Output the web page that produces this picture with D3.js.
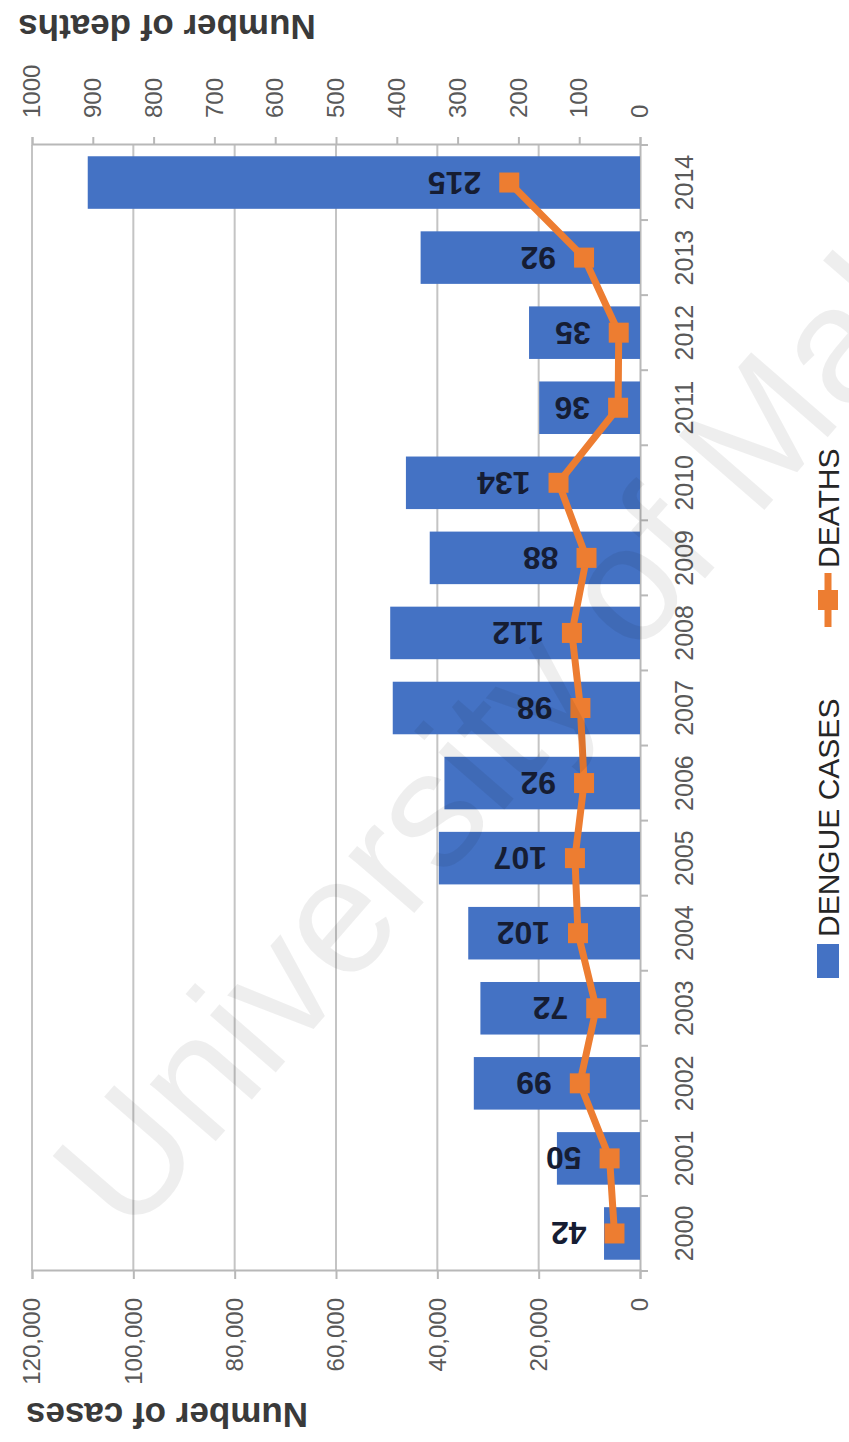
<!DOCTYPE html>
<html>
<head>
<meta charset="utf-8">
<script src="https://cdn.jsdelivr.net/npm/d3@7"></script>
<style>
  html, body { margin: 0; padding: 0; background: #ffffff; }
  svg { display: block; font-family: "Liberation Sans", Arial, sans-serif; }
</style>
</head>
<body>
<script>
// Dengue cases and deaths per year
const years = ["2000","2001","2002","2003","2004","2005","2006","2007","2008","2009","2010","2011","2012","2013","2014"];
const dengueCases = [7100, 16400, 32800, 31500, 33900, 39700, 38600, 48800, 49300, 41500, 46200, 19900, 21900, 43300, 109000];
const deaths = [42, 50, 99, 72, 102, 107, 92, 98, 112, 88, 134, 36, 35, 92, 215];
const caseTicks = [0, 20000, 40000, 60000, 80000, 100000, 120000];
const deathTicks = [0, 100, 200, 300, 400, 500, 600, 700, 800, 900, 1000];
const legendLabels = ["DENGUE CASES", "DEATHS"];
const axisTitles = { cases: "Number of cases", deaths: "Number of deaths" };

const W = 849, H = 1442;
const BLUE = "#4472c4", ORANGE = "#ed7d31";

const svg = d3.select("body").append("svg")
  .attr("width", W).attr("height", H)
  .attr("viewBox", `0 0 ${W} ${H}`);

svg.append("rect").attr("width", W).attr("height", H).attr("fill", "#ffffff");

// The column chart is laid out in its own frame (width H, height W)
// and turned a quarter turn counter-clockwise onto the page.
const g = svg.append("g").attr("transform", `translate(0,${H}) rotate(-90)`);

const plot = { left: 171, right: 1297, top: 32, bottom: 640 };

const x = d3.scaleBand().domain(years)
  .range([plot.left, plot.right])
  .paddingInner(0.3).paddingOuter(0.15);
const yCases = d3.scaleLinear().domain([0, 120000]).range([plot.bottom, plot.top]);
const yDeaths = d3.scaleLinear().domain([0, 1000]).range([plot.bottom, plot.top]);

// gridlines at the case ticks
g.append("g").selectAll("line")
  .data(caseTicks.filter(d => d > 0))
  .join("line")
  .attr("x1", plot.left).attr("x2", plot.right)
  .attr("y1", d => yCases(d)).attr("y2", d => yCases(d))
  .attr("stroke", "#c4c4c4").attr("stroke-width", 2);

// left axis: cases
const axCases = g.append("g")
  .attr("transform", `translate(${plot.left},0)`)
  .call(d3.axisLeft(yCases).tickValues(caseTicks).tickFormat(d3.format(",")).tickSize(8).tickPadding(19));

// right axis: deaths
const axDeaths = g.append("g")
  .attr("transform", `translate(${plot.right},0)`)
  .call(d3.axisRight(yDeaths).tickValues(deathTicks).tickFormat(d3.format("d")).tickSize(8).tickPadding(19));

// category axis
const axYears = g.append("g")
  .attr("transform", `translate(0,${plot.bottom})`)
  .call(d3.axisBottom(x).tickSize(0).tickPadding(35));

[axCases, axDeaths, axYears].forEach(ax => {
  ax.select(".domain").attr("stroke", "#b8b8b8").attr("stroke-width", 2);
  ax.selectAll(".tick line").attr("stroke", "#b8b8b8").attr("stroke-width", 2);
  ax.selectAll(".tick text").attr("fill", "#595959").attr("font-size", 24)
    .attr("font-family", "Liberation Sans, Arial, sans-serif");
});
axYears.selectAll(".tick text").attr("font-size", 25);

// tick marks between categories
g.append("g").selectAll("line")
  .data(d3.range(years.length + 1))
  .join("line")
  .attr("x1", i => plot.left + i * x.step()).attr("x2", i => plot.left + i * x.step())
  .attr("y1", plot.bottom).attr("y2", plot.bottom + 8)
  .attr("stroke", "#b8b8b8").attr("stroke-width", 2);

// bars: dengue cases
g.append("g").selectAll("rect")
  .data(years)
  .join("rect")
  .attr("x", d => x(d))
  .attr("width", x.bandwidth())
  .attr("y", (d, i) => yCases(dengueCases[i]))
  .attr("height", (d, i) => plot.bottom - yCases(dengueCases[i]))
  .attr("fill", BLUE);

// line: deaths
const cx = d => x(d) + x.bandwidth() / 2;
g.append("path")
  .datum(years)
  .attr("fill", "none")
  .attr("stroke", ORANGE)
  .attr("stroke-width", 7)
  .attr("stroke-linejoin", "round")
  .attr("d", d3.line().x(d => cx(d)).y((d, i) => yDeaths(deaths[i])));

const MK = 20;
g.append("g").selectAll("rect")
  .data(years)
  .join("rect")
  .attr("x", d => cx(d) - MK / 2)
  .attr("y", (d, i) => yDeaths(deaths[i]) - MK / 2)
  .attr("width", MK).attr("height", MK)
  .attr("fill", ORANGE);

// value labels for deaths
g.append("g").selectAll("text")
  .data(years)
  .join("text")
  .attr("transform", (d, i) => `translate(${cx(d)},${yDeaths(deaths[i]) - 28}) rotate(-90)`)
  .attr("text-anchor", "start")
  .attr("dominant-baseline", "central")
  .attr("font-size", 32)
  .attr("font-weight", "bold")
  .attr("fill", "#161d33")
  .text((d, i) => deaths[i]);

// axis titles
g.append("text")
  .attr("transform", `translate(27,167) rotate(-90)`)
  .attr("text-anchor", "middle").attr("dominant-baseline", "central")
  .attr("font-size", 35).attr("font-weight", "bold").attr("fill", "#3a3a3a")
  .text(axisTitles.cases);
g.append("text")
  .attr("transform", `translate(1415,167) rotate(-90)`)
  .attr("text-anchor", "middle").attr("dominant-baseline", "central")
  .attr("font-size", 35).attr("font-weight", "bold").attr("fill", "#3a3a3a")
  .text(axisTitles.deaths);

// legend
const legY = 828;
const leg = g.append("g");
leg.append("rect").attr("x", 464).attr("y", legY - 11).attr("width", 34).attr("height", 22).attr("fill", BLUE);
leg.append("text").attr("x", 505).attr("y", legY)
  .attr("dominant-baseline", "central").attr("font-size", 30).attr("fill", "#262626")
  .text(legendLabels[0]);
leg.append("line").attr("x1", 815).attr("x2", 869).attr("y1", legY).attr("y2", legY)
  .attr("stroke", ORANGE).attr("stroke-width", 7);
leg.append("rect").attr("x", 842 - MK / 2).attr("y", legY - MK / 2).attr("width", MK).attr("height", MK)
  .attr("fill", ORANGE);
leg.append("text").attr("x", 874).attr("y", legY)
  .attr("dominant-baseline", "central").attr("font-size", 30).attr("fill", "#262626")
  .text(legendLabels[1]);

// faint diagonal watermark
svg.append("text")
  .attr("transform", "translate(130,1240) rotate(-49)")
  .attr("font-size", 165)
  .attr("fill", "#000000")
  .attr("fill-opacity", 0.065)
  .text("University of Malaya");
</script>
</body>
</html>
